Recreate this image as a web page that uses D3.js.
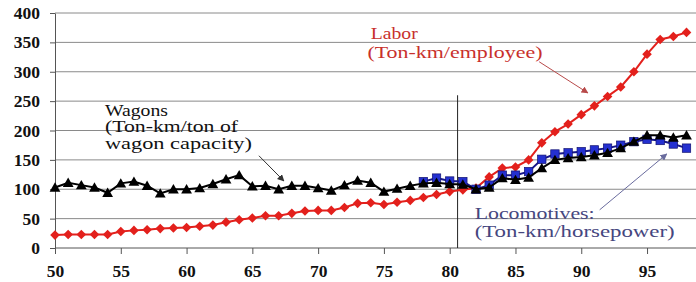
<!DOCTYPE html>
<html>
<head>
<meta charset="utf-8">
<script src="https://cdn.jsdelivr.net/npm/d3@7"></script>
<style>
  body { margin: 0; background: #fff; }
  svg { display: block; }
  text { font-family: "Liberation Serif", "Times New Roman", serif; }
</style>
</head>
<body>
<svg id="chart"></svg>
<script>
// years 1950..1998 (two digit labels)
var laborYears = d3.range(50, 99);
var labor = [22, 23, 23, 23, 23, 28, 30, 31, 33, 34,
             35, 37, 39, 44, 48, 51, 55, 55, 59, 63,
             64, 64, 69, 76, 77, 74, 78, 81, 86, 91,
             96, 99, 102, 121, 136, 138, 150, 179, 198, 211,
             227, 242, 258, 274, 300, 330, 355, 360, 367];

var wagonYears = d3.range(50, 99);
var wagons = [103, 111, 107, 103, 94, 110, 113, 106, 93, 100,
              100, 102, 109, 117, 124, 105, 106, 100, 106, 106,
              102, 98, 107, 115, 111, 96, 101, 106, 110, 111,
              109, 108, 100, 103, 119, 116, 120, 136, 150, 153,
              155, 158, 162, 170, 181, 192, 192, 188, 192];

var locoYears = d3.range(78, 99);
var loco = [113, 119, 114, 113, 100, 107, 124, 124, 130, 151,
            160, 162, 164, 167, 170, 175, 181, 185, 183, 177, 170];

var xTicks = [50, 55, 60, 65, 70, 75, 80, 85, 90, 95];
var yTicks = [0, 50, 100, 150, 200, 250, 300, 350, 400];

var breakYear = 80.6;
var breakTop = 260;

var labelLines = [
    {text: "Labor", x: 74.0, y: 355, len: 47, color: "#c8302c"},
    {text: "(Ton-km/employee)", x: 73.75, y: 323, len: 175, color: "#c8302c"},
    {text: "Wagons", x: 53.8, y: 224, len: 63, color: "#111"},
    {text: "(Ton-km/ton of", x: 53.8, y: 197, len: 133, color: "#111"},
    {text: "wagon capacity)", x: 53.8, y: 169, len: 147, color: "#111"},
    {text: "Locomotives:", x: 81.9, y: 50, len: 120, color: "#45467e"},
    {text: "(Ton-km/horsepower)", x: 81.9, y: 18, len: 200, color: "#45467e"}
];

var arrows = [
    {from: [86.8, 317], to: [90.5, 264], color: "#b84a4a", id: "a-red"},
    {from: [65.5, 157], to: [67.4, 114], color: "#333", id: "a-black"},
    {from: [91.4, 65], to: [96.5, 160], color: "#6a6c9e", id: "a-blue"}
];

width = 696;
height = 282;

svg = d3.select("#chart")
    .attr("width", width)
    .attr("height", height);

x = d3.scaleLinear()
    .domain([50, 98])
    .range([55, 686.5]);

y = d3.scaleLinear()
    .domain([0, 400])
    .range([248, 13]);

// horizontal gridlines
svg.append("g")
    .selectAll("line")
    .data(yTicks)
    .join("line")
        .attr("x1", x(50))
        .attr("x2", width)
        .attr("y1", d => y(d))
        .attr("y2", d => y(d))
        .attr("stroke", d => d == 0 ? "#555" : "#8a8a8a")
        .attr("stroke-width", 1);

yAxis = svg.append("g")
    .attr("transform", "translate(" + x(50) + ",0)")
    .call(
        d3.axisLeft(y)
            .tickValues(yTicks)
            .tickSize(5)
            .tickSizeOuter(0)
            .tickPadding(10)
    );
yAxis.select(".domain").attr("stroke", "#555");
yAxis.selectAll(".tick line").attr("stroke", "#555");
yAxis.selectAll("text")
    .attr("font-weight", "bold")
    .attr("font-size", 17.5)
    .attr("fill", "#111");

xAxis = svg.append("g")
    .attr("transform", "translate(0," + y(0) + ")")
    .call(
        d3.axisBottom(x)
            .tickValues(xTicks)
            .tickSize(6)
            .tickSizeOuter(0)
    );
xAxis.select(".domain").remove();
xAxis.selectAll(".tick line").attr("stroke", "#555");
xAxis.selectAll("text")
    .attr("font-weight", "bold")
    .attr("font-size", 17.5)
    .attr("fill", "#111")
    .attr("y", 29)
    .attr("dy", 0);

// vertical marker line
svg.append("line")
    .attr("x1", x(breakYear))
    .attr("x2", x(breakYear))
    .attr("y1", y(breakTop))
    .attr("y2", y(0))
    .attr("stroke", "#222")
    .attr("stroke-width", 1);

line = d3.line()
    .x(d => x(d[0]))
    .y(d => y(d[1]));

laborData = d3.zip(laborYears, labor);
wagonData = d3.zip(wagonYears, wagons);
locoData = d3.zip(locoYears, loco);

// labor
svg.append("path")
    .datum(laborData)
    .attr("d", line)
    .attr("fill", "none")
    .attr("stroke", "#e3201c")
    .attr("stroke-width", 2);
svg.append("g")
    .selectAll("path")
    .data(laborData)
    .join("path")
        .attr("d", "M0,-4.8L4.8,0L0,4.8L-4.8,0Z")
        .attr("transform", d => "translate(" + x(d[0]) + "," + y(d[1]) + ")")
        .attr("fill", "#e3201c");

// locomotives
svg.append("path")
    .datum(locoData)
    .attr("d", line)
    .attr("fill", "none")
    .attr("stroke", "#16168a")
    .attr("stroke-width", 2);
svg.append("g")
    .selectAll("rect")
    .data(locoData)
    .join("rect")
        .attr("x", d => x(d[0]) - 4.2)
        .attr("y", d => y(d[1]) - 4.2)
        .attr("width", 8.4)
        .attr("height", 8.4)
        .attr("fill", "#2430d0")
        .attr("stroke", "#121270")
        .attr("stroke-width", 0.7);

// wagons
svg.append("path")
    .datum(wagonData)
    .attr("d", line)
    .attr("fill", "none")
    .attr("stroke", "#000")
    .attr("stroke-width", 2);
svg.append("g")
    .selectAll("path")
    .data(wagonData)
    .join("path")
        .attr("d", "M0,-5.2L5.4,4.2L-5.4,4.2Z")
        .attr("transform", d => "translate(" + x(d[0]) + "," + y(d[1]) + ")")
        .attr("fill", "#000");

// annotation arrows
defs = svg.append("defs");
arrows.forEach(function(a) {
    defs.append("marker")
        .attr("id", a.id)
        .attr("viewBox", "0 0 10 10")
        .attr("refX", 9)
        .attr("refY", 5)
        .attr("markerWidth", 7)
        .attr("markerHeight", 7)
        .attr("markerUnits", "userSpaceOnUse")
        .attr("orient", "auto")
      .append("path")
        .attr("d", "M0,0L10,5L0,10Z")
        .attr("fill", a.color);
    svg.append("line")
        .attr("x1", x(a.from[0]))
        .attr("y1", y(a.from[1]))
        .attr("x2", x(a.to[0]))
        .attr("y2", y(a.to[1]))
        .attr("stroke", a.color)
        .attr("stroke-width", 1)
        .attr("marker-end", "url(#" + a.id + ")");
});

svg.append("g")
    .selectAll("text")
    .data(labelLines)
    .join("text")
        .attr("x", d => x(d.x))
        .attr("y", d => y(d.y))
        .attr("font-size", 17)
        .attr("fill", d => d.color)
        .attr("textLength", d => d.len)
        .attr("lengthAdjust", "spacingAndGlyphs")
        .text(d => d.text);
</script>
</body>
</html>
